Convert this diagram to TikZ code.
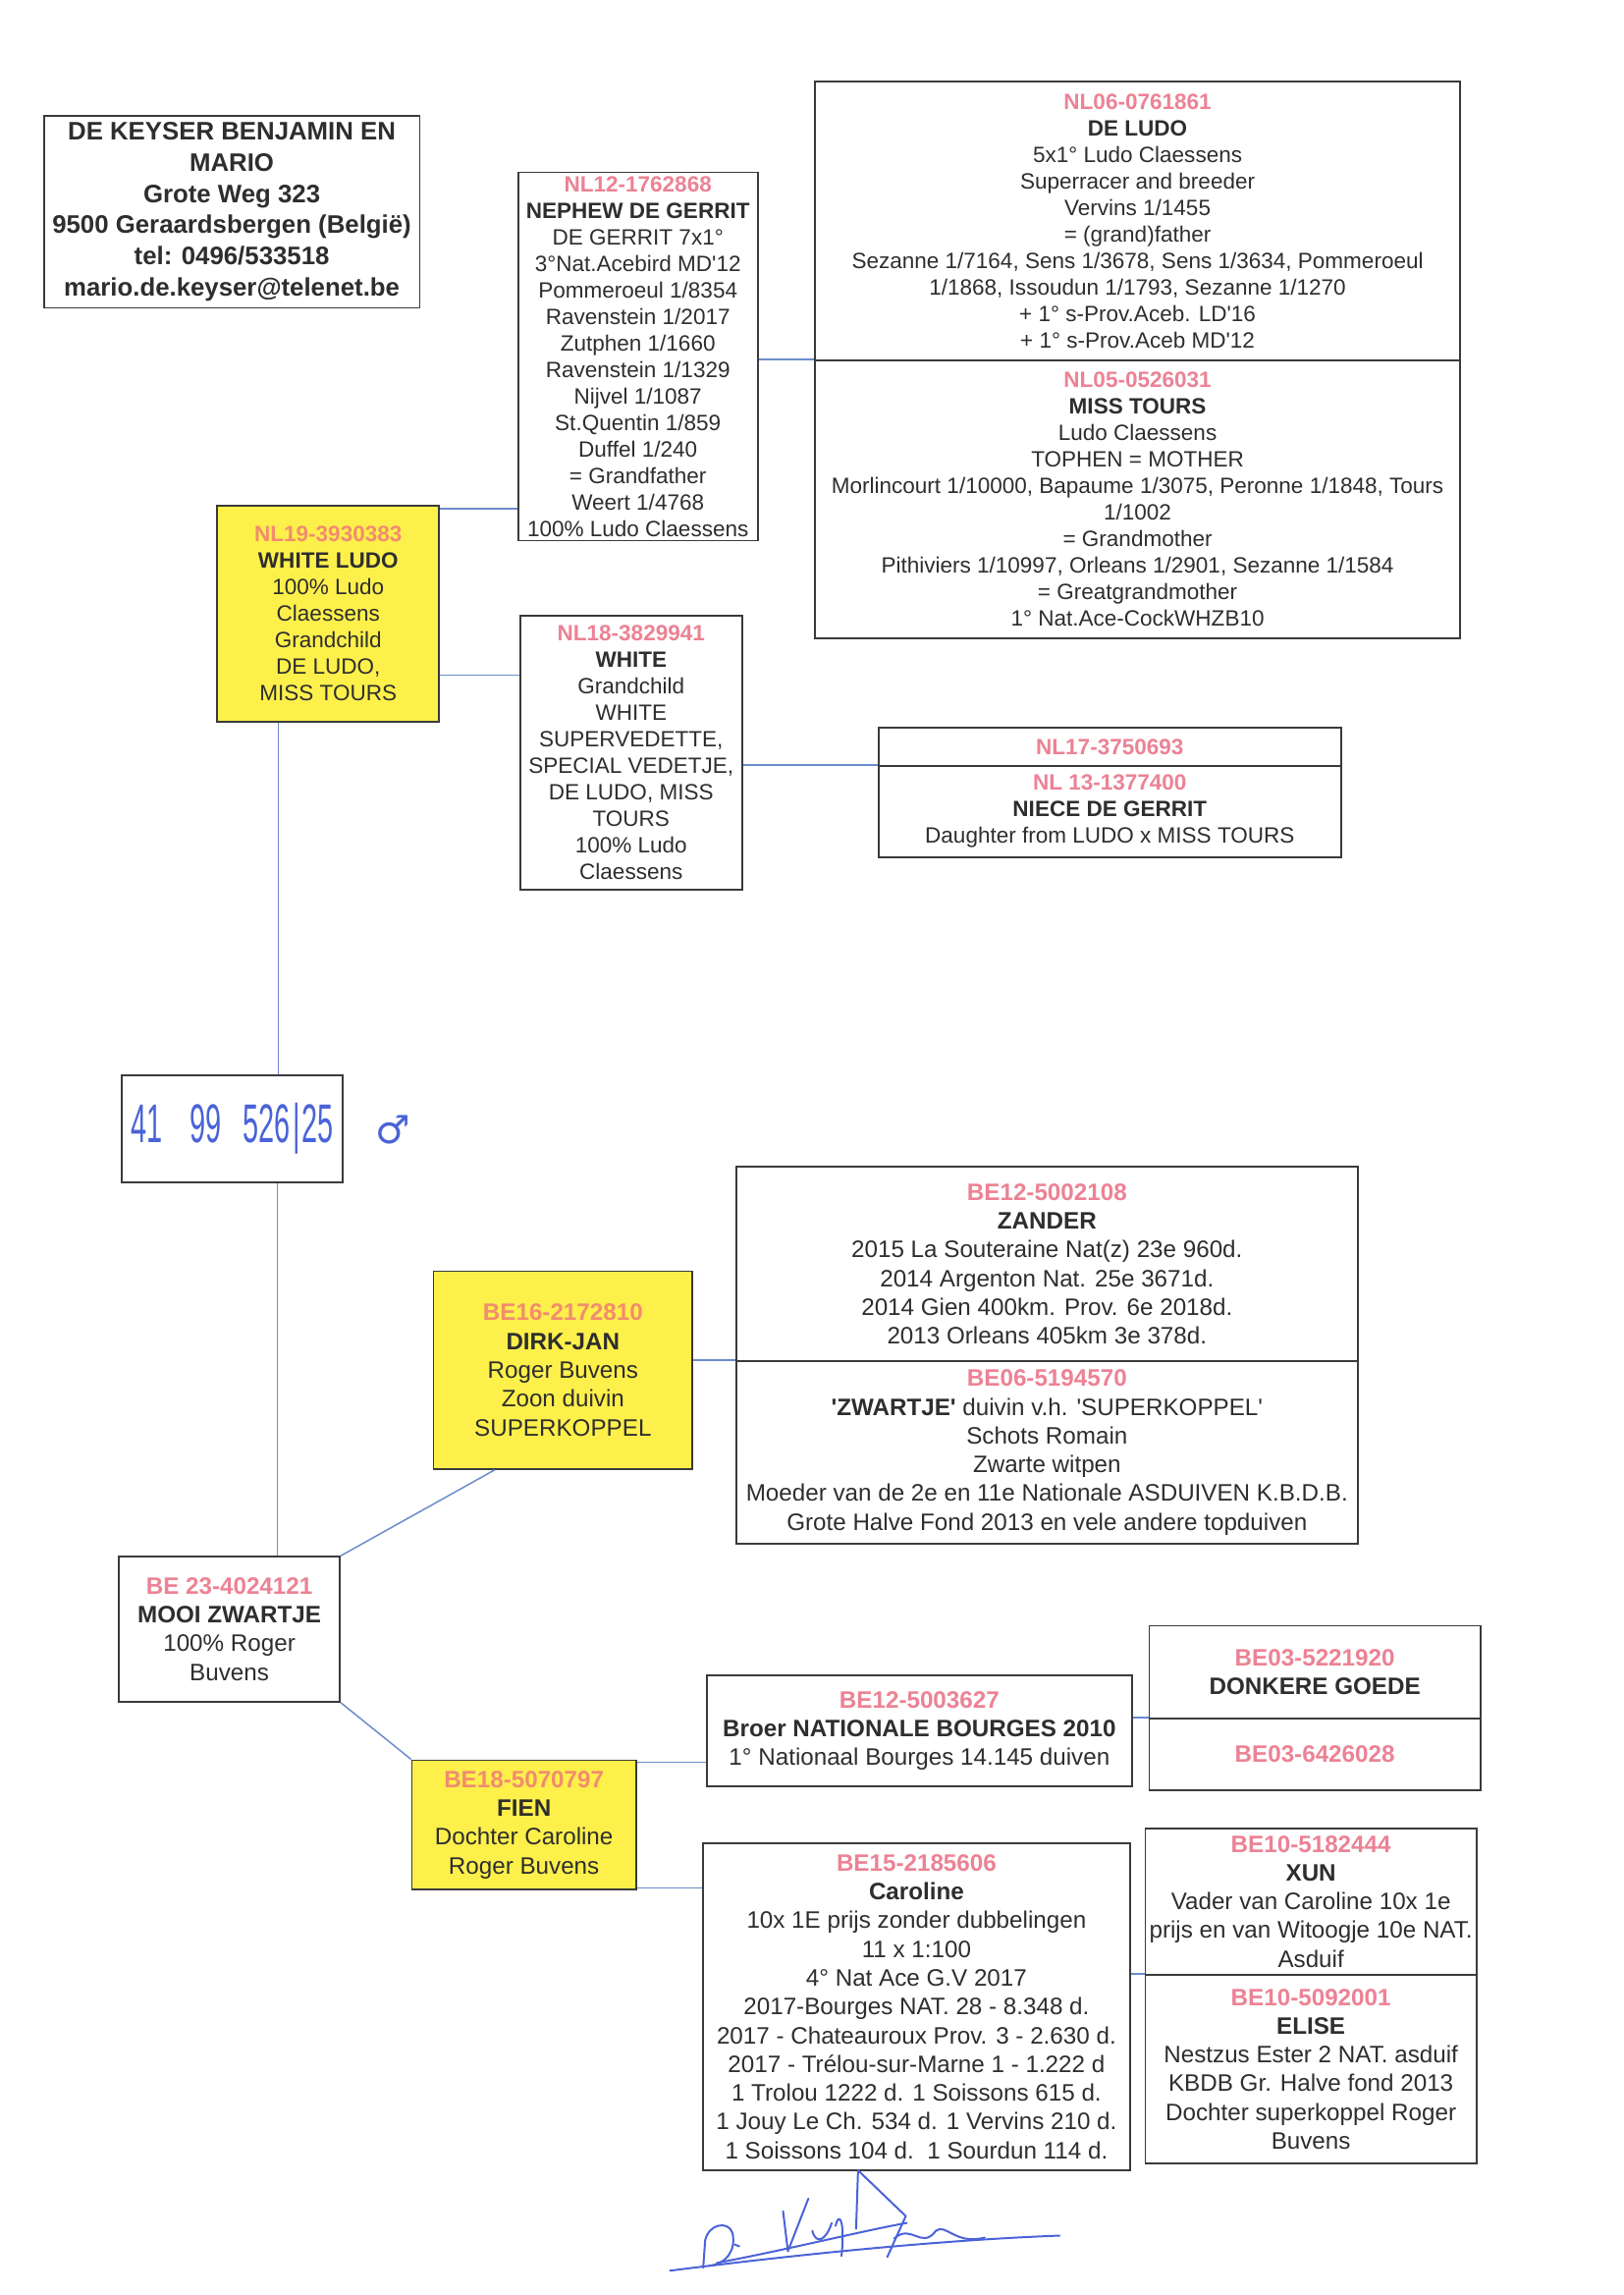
\documentclass[tikz,border=0pt]{standalone}
\usepackage{fontspec}
\newfontfamily\arial{Liberation Sans}
\newfontfamily\handfont[FakeStretch=0.52]{Liberation Sans}
\newfontfamily\symbfont{DejaVu Sans}
\definecolor{ink}{HTML}{2E2E2E}
\definecolor{boxline}{HTML}{3A3A3A}
\definecolor{ringpink}{HTML}{EC8294}
\definecolor{ringorange}{HTML}{F28C6E}
\definecolor{boxyellow}{HTML}{FDF04B}
\definecolor{linkblue}{HTML}{6B8CCB}
\definecolor{handblue}{HTML}{4A63D8}
\newcommand{\ring}[1]{\textcolor{ringpink}{\bfseries #1}}
\newcommand{\ringy}[1]{\textcolor{ringorange}{\bfseries #1}}
\begin{document}
\begin{tikzpicture}[x=1pt, y=-1pt,
  box/.style={draw=boxline, line width=1.8pt, align=center, inner sep=0pt, text=ink},
  ybox/.style={box, fill=boxyellow},
  nlfont/.style={font=\arial\fontsize{22.7}{27.2}\selectfont},
  befont/.style={font=\arial\fontsize{24.4}{29.5}\selectfont},
  link/.style={draw=linkblue, line width=1.5pt},
  sign/.style={draw=handblue, line width=2pt, line cap=round, line join=round}]
\useasboundingbox[fill=white] (0,0) rectangle (1667,2356);

% owner
\node (owner)[box, minimum width=386pt, minimum height=197pt, font=\arial\bfseries\fontsize{26}{32}\selectfont] at (238,217.5) {DE KEYSER BENJAMIN EN\\MARIO\\Grote Weg 323\\9500 Geraardsbergen (België)\\tel: 0496/533518\\mario.de.keyser@telenet.be};

% father side
\node (nl19)[ybox, nlfont, minimum width=228pt, minimum height=222pt] at (337,630) {\ringy{NL19-3930383}\\\textbf{WHITE LUDO}\\100\% Ludo\\Claessens\\Grandchild\\DE LUDO,\\MISS TOURS};
\node (nl12)[box, nlfont, minimum width=246pt, minimum height=378pt] at (655,366) {\ring{NL12-1762868}\\\textbf{NEPHEW DE GERRIT}\\DE GERRIT 7x1°\\3°Nat.Acebird MD'12\\Pommeroeul 1/8354\\Ravenstein 1/2017\\Zutphen 1/1660\\Ravenstein 1/1329\\Nijvel 1/1087\\St.Quentin 1/859\\Duffel 1/240\\= Grandfather\\Weert 1/4768\\100\% Ludo Claessens};
\node (nl06)[box, nlfont, minimum width=662pt, minimum height=286pt] at (1168,227) {\ring{NL06-0761861}\\\textbf{DE LUDO}\\5x1° Ludo Claessens\\Superracer and breeder\\Vervins 1/1455\\= (grand)father\\Sezanne 1/7164, Sens 1/3678, Sens 1/3634, Pommeroeul\\1/1868, Issoudun 1/1793, Sezanne 1/1270\\+ 1° s-Prov.Aceb. LD'16\\+ 1° s-Prov.Aceb MD'12};
\node (nl05)[box, nlfont, minimum width=662pt, minimum height=285pt] at (1168,512.5) {\ring{NL05-0526031}\\\textbf{MISS TOURS}\\Ludo Claessens\\TOPHEN = MOTHER\\Morlincourt 1/10000, Bapaume 1/3075, Peronne 1/1848, Tours\\1/1002\\= Grandmother\\Pithiviers 1/10997, Orleans 1/2901, Sezanne 1/1584\\= Greatgrandmother\\1° Nat.Ace-CockWHZB10};
\node (nl18)[box, nlfont, minimum width=228pt, minimum height=281pt] at (648,772.5) {\ring{NL18-3829941}\\\textbf{WHITE}\\Grandchild\\WHITE\\SUPERVEDETTE,\\SPECIAL VEDETJE,\\DE LUDO, MISS\\TOURS\\100\% Ludo\\Claessens};
\node (nl17)[box, nlfont, minimum width=475pt, minimum height=39pt] at (1139.5,766.5) {\ring{NL17-3750693}};
\node (nl13)[box, nlfont, minimum width=475pt, minimum height=94pt] at (1139.5,833) {\ring{NL 13-1377400}\\\textbf{NIECE DE GERRIT}\\Daughter from LUDO x MISS TOURS};

% the pigeon itself
\node (hand)[box, minimum width=227pt, minimum height=110pt, text=handblue, font=\handfont\fontsize{56}{56}\selectfont] at (238.5,1159) {41\hspace{28pt}99\hspace{22pt}526\hspace{3pt}|\hspace{1pt}25};
\node (male)[text=handblue, font=\symbfont\fontsize{40}{40}\selectfont, inner sep=0pt] at (404,1160) {♂};

% mother side
\node (be16)[ybox, befont, minimum width=266pt, minimum height=203pt] at (578,1406.5) {\ringy{BE16-2172810}\\\textbf{DIRK-JAN}\\Roger Buvens\\Zoon duivin\\SUPERKOPPEL};
\node (be12z)[box, befont, minimum width=638pt, minimum height=199pt] at (1075,1297.5) {\ring{BE12-5002108}\\\textbf{ZANDER}\\2015 La Souteraine Nat(z) 23e 960d.\\2014 Argenton Nat. 25e 3671d.\\2014 Gien 400km. Prov. 6e 2018d.\\2013 Orleans 405km 3e 378d.};
\node (be06)[box, befont, minimum width=638pt, minimum height=188pt] at (1075,1491) {\ring{BE06-5194570}\\\textbf{'ZWARTJE'} duivin v.h. 'SUPERKOPPEL'\\Schots Romain\\Zwarte witpen\\Moeder van de 2e en 11e Nationale ASDUIVEN K.B.D.B.\\Grote Halve Fond 2013 en vele andere topduiven};
\node (be23)[box, befont, minimum width=227pt, minimum height=149pt] at (235.5,1672.5) {\ring{BE 23-4024121}\\\textbf{MOOI ZWARTJE}\\100\% Roger\\Buvens};
\node (be18)[ybox, befont, minimum width=230pt, minimum height=133pt] at (538,1873.5) {\ringy{BE18-5070797}\\\textbf{FIEN}\\Dochter Caroline\\Roger Buvens};
\node (broer)[box, befont, minimum width=436pt, minimum height=114pt] at (944,1777) {\ring{BE12-5003627}\\\textbf{Broer NATIONALE BOURGES 2010}\\1° Nationaal Bourges 14.145 duiven};
\node (be03a)[box, befont, minimum width=340pt, minimum height=95pt] at (1350,1716.5) {\ring{BE03-5221920}\\\textbf{DONKERE GOEDE}};
\node (be03b)[box, befont, minimum width=340pt, minimum height=74pt] at (1350,1801) {\ring{BE03-6426028}};
\node (caroline)[box, befont, minimum width=438pt, minimum height=336pt] at (941,2060) {\ring{BE15-2185606}\\\textbf{Caroline}\\10x 1E prijs zonder dubbelingen\\11 x 1:100\\4° Nat Ace G.V 2017\\2017-Bourges NAT. 28 - 8.348 d.\\2017 - Chateauroux Prov. 3 - 2.630 d.\\2017 - Trélou-sur-Marne 1 - 1.222 d\\1 Trolou 1222 d. 1 Soissons 615 d.\\1 Jouy Le Ch. 534 d. 1 Vervins 210 d.\\1 Soissons 104 d.\ \ 1 Sourdun 114 d.};
\node (xun)[box, befont, minimum width=340pt, minimum height=150pt] at (1346,1952) {\ring{BE10-5182444}\\\textbf{XUN}\\Vader van Caroline 10x 1e\\prijs en van Witoogje 10e NAT.\\Asduif};
\node (elise)[box, befont, minimum width=340pt, minimum height=194pt] at (1346,2124) {\ring{BE10-5092001}\\\textbf{ELISE}\\Nestzus Ester 2 NAT. asduif\\KBDB Gr. Halve fond 2013\\Dochter superkoppel Roger\\Buvens};

% connectors
\draw[link] ([yshift=-4pt]nl19.north east) -- ([yshift=-4pt]nl19.north east -| nl12.west);
\draw[link] ([yshift=-63pt]nl19.east) -- ([yshift=-63pt]nl19.east -| nl18.west);
\draw[link] (nl12.east |- nl05.north west) -- (nl05.north west);
\draw[link] (nl18.east |- nl13.north west) -- (nl13.north west);
\draw[link] ([xshift=-51pt]nl19.south) -- ([xshift=-51pt]nl19.south |- hand.north);
\draw[link] ([xshift=46.5pt]hand.south) -- ([xshift=46.5pt]hand.south |- be23.north);
\draw[link] (be23.north east) -- ([xshift=-70pt]be16.south);
\draw[link] (be23.south east) -- (be18.north west);
\draw[link] (be16.east |- be06.north west) -- (be06.north west);
\draw[link] ([yshift=-3pt]be18.north east) -- ([yshift=-3pt]be18.north east -| broer.west);
\draw[link] ([yshift=3pt]be18.south east) -- ([yshift=3pt]be18.south east -| caroline.west);
\draw[link] (broer.east |- be03b.north west) -- (be03b.north west);
\draw[link] (caroline.east |- elise.north west) -- (elise.north west);

% signature
\draw[sign] (688,2331) .. controls (806,2316) and (956,2300) .. (1088,2295);
\draw[sign] (722,2328) -- (724,2300) .. controls (728,2282) and (748,2280) .. (752,2292) .. controls (756,2310) and (746,2324) .. (728,2326);
\draw[sign] (754,2304) -- (759,2306);
\draw[sign] (804,2270) -- (809,2311) -- (830,2257);
\draw[sign] (834,2290) .. controls (838,2305) and (848,2300) .. (854,2282);
\draw[sign] (858,2285) .. controls (861,2270) and (868,2278) .. (864,2316);
\draw[sign] (879,2288) -- (881,2228) -- (930,2275) -- (911,2317);
\draw[sign] (918,2298) .. controls (936,2282) and (946,2310) .. (961,2290) .. controls (971,2282) and (981,2305) .. (1011,2297);
\draw[sign] (736,2323) .. controls (806,2310) and (886,2290) .. (931,2282);
\end{tikzpicture}
\end{document}
